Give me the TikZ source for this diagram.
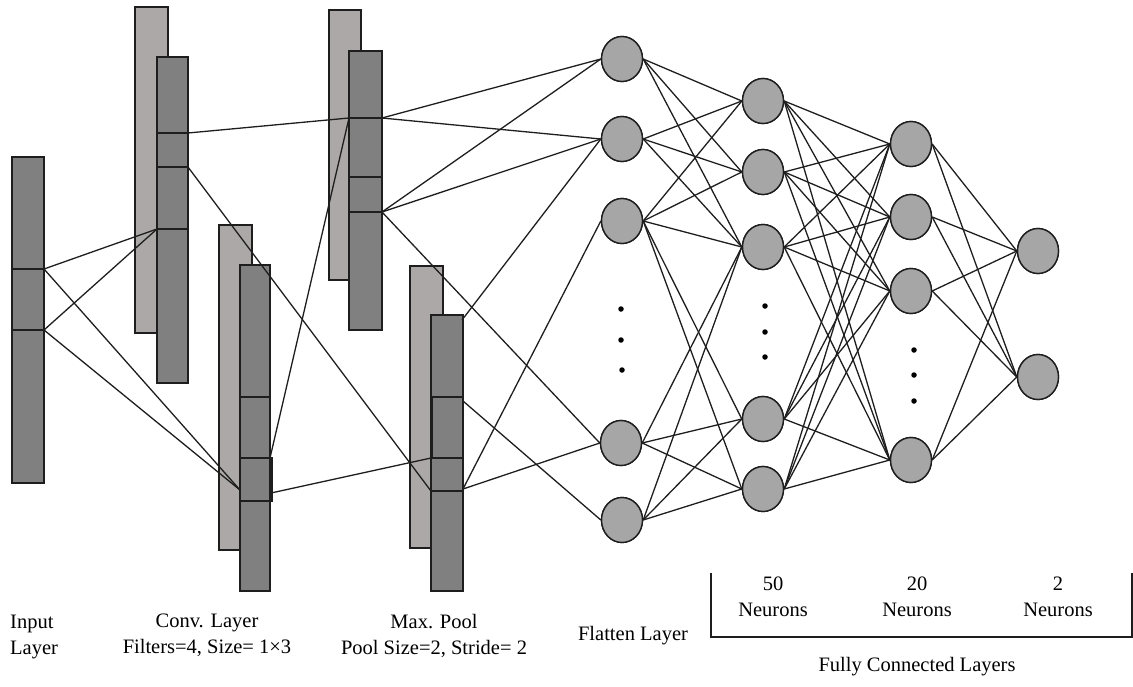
\documentclass[tikz,border=0pt]{standalone}
\usepackage{fontspec}
\setmainfont{Liberation Serif}
\usetikzlibrary{shapes.geometric}
\definecolor{lightbar}{HTML}{ABA8A7}
\definecolor{darkbar}{HTML}{808080}
\definecolor{neuron}{HTML}{A6A6A6}
\definecolor{ink}{HTML}{1E1E1E}
\tikzset{
  lbar/.style={draw=ink, line width=1.5pt, fill=lightbar},
  dbar/.style={draw=ink, line width=1.5pt, fill=darkbar},
  divl/.style={draw=ink, line width=1.5pt},
  neur/.style={ellipse, draw=ink, line width=1.4pt, fill=neuron, minimum width=41pt, minimum height=45pt, inner sep=0pt},
  conn/.style={draw=ink, line width=1.3pt},
  dotn/.style={circle, fill=black, inner sep=0pt, minimum size=5.5pt},
  lbl/.style={font=\fontsize{20.5}{26}\selectfont, inner sep=0pt, align=center},
}
\begin{document}
\begin{tikzpicture}[x=1pt,y=-1pt]
\useasboundingbox (0,0) rectangle (1133,686);
% ---- input layer
\draw[dbar] (12,157) rectangle (44,483);
\draw[divl] (12,269) -- (44,269);
\draw[divl] (12,330) -- (44,330);
% ---- conv layer
\draw[lbar] (135,7) rectangle (168,333);
\draw[dbar] (157,57) rectangle (188,383);
\draw[divl] (157,133) -- (188,133);
\draw[divl] (157,167) -- (188,167);
\draw[divl] (157,229) -- (188,229);
\draw[lbar] (219,225) rectangle (252,550);
\draw[dbar] (240,265) rectangle (270,591);
\draw[divl] (240,397) -- (270,397);
\draw[line width=2pt, draw=ink] (240,458) rectangle (271.5,501);
% ---- max pool
\draw[lbar] (329,10) rectangle (361,280);
\draw[dbar] (349,51) rectangle (382,330);
\draw[divl] (349,118) -- (382,118);
\draw[divl] (349,177) -- (382,177);
\draw[divl] (349,212) -- (382,212);
\draw[lbar] (410,266) rectangle (443,548);
\draw[dbar] (431,315) rectangle (463,591);
\draw[line width=1.8pt, draw=ink] (432.5,397) rectangle (463,458);
\draw[divl] (431,491) -- (463,491);
% ---- anchor coordinates on the bars
\coordinate (in1) at (44,269);
\coordinate (in2) at (44,330);
\coordinate (cv1) at (157,229);
\coordinate (cv2) at (240,490);
\coordinate (cv3) at (188,133);
\coordinate (cv4) at (188,167);
\coordinate (cv5) at (270,458);
\coordinate (cv6) at (271,493);
\coordinate (pl1) at (349,118);
\coordinate (pl2) at (431,491);
\coordinate (pl3) at (431,458);
\coordinate (pl4) at (382,118);
\coordinate (pl5) at (382,212);
\coordinate (pl6) at (462,320);
\coordinate (pl7) at (463,489);
\coordinate (pl8) at (463,401);
% ---- neurons (named, for connector anchors)
\node[neur] (F1) at (622,59) {};
\node[neur] (F2) at (622,139) {};
\node[neur] (F3) at (622,221) {};
\node[neur] (F4) at (621,443) {};
\node[neur] (F5) at (622,520) {};
\node[neur] (A1) at (763,101) {};
\node[neur] (A2) at (763,172) {};
\node[neur] (A3) at (763,247) {};
\node[neur] (A4) at (763,419) {};
\node[neur] (A5) at (763,489) {};
\node[neur] (B1) at (911,144) {};
\node[neur] (B2) at (911,217) {};
\node[neur] (B3) at (911,291) {};
\node[neur] (B4) at (911,460) {};
\node[neur] (C1) at (1038,251) {};
\node[neur] (C2) at (1038,377) {};
% ---- connectors
\draw[conn] (in1) -- (cv1);
\draw[conn] (in2) -- (cv1);
\draw[conn] (in1) -- (cv2);
\draw[conn] (in2) -- (cv2);
\draw[conn] (cv3) -- (pl1);
\draw[conn] (cv4) -- (pl2);
\draw[conn] (cv5) -- (pl1);
\draw[conn] (cv6) -- (pl3);
\draw[conn] (pl4) -- (F1.west);
\draw[conn] (pl4) -- (F2.west);
\draw[conn] (pl5) -- (F1.west);
\draw[conn] (pl5) -- (F2.west);
\draw[conn] (pl5) -- (F4.west);
\draw[conn] (pl6) -- (F2.west);
\draw[conn] (pl7) -- (F3.west);
\draw[conn] (pl7) -- (F4.west);
\draw[conn] (pl8) -- (F5.west);
\foreach \f in {F1,F2,F3}{\foreach \a in {A1,A2,A3}{\draw[conn] (\f.east) -- (\a.west);}}
\draw[conn] (F3.east) -- (A4.west);
\draw[conn] (F3.east) -- (A5.west);
\foreach \f in {F4,F5}{\foreach \a in {A3,A4,A5}{\draw[conn] (\f.east) -- (\a.west);}}
\foreach \a in {A1,A2,A3,A4,A5}{\foreach \b in {B1,B2,B3,B4}{\draw[conn] (\a.east) -- (\b.west);}}
\foreach \b in {B1,B2,B3,B4}{\foreach \c in {C1,C2}{\draw[conn] (\b.east) -- (\c.west);}}
% redraw neurons on top of connector ends
\foreach \n in {F1,F2,F3,F4,F5,A1,A2,A3,A4,A5,B1,B2,B3,B4,C1,C2}{\node[neur] at (\n) {};}
% ---- dots
\node[dotn] (fd1) at (621,309) {};
\node[dotn] (fd2) at (621,340) {};
\node[dotn] (fd3) at (622,370) {};
\node[dotn] (ad1) at (765,306) {};
\node[dotn] (ad2) at (765,332) {};
\node[dotn] (ad3) at (765,357) {};
\node[dotn] (bd1) at (914,350) {};
\node[dotn] (bd2) at (914,375) {};
\node[dotn] (bd3) at (914,401) {};
% ---- labels
\node[lbl, align=left, anchor=west] (linput) at (10,636.5) {Input\\Layer};
\node[lbl] (lconv) at (207,635.5) {Conv. Layer\\Filters=4, Size= 1×3};
\node[lbl] (lpool) at (434,635.5) {Max. Pool\\Pool Size=2, Stride= 2};
\node[lbl, anchor=base] (lflat) at (633,640) {Flatten Layer};
\node[lbl] (l50) at (773,597) {50\\Neurons};
\node[lbl] (l20) at (917,597) {20\\Neurons};
\node[lbl] (l2) at (1058,597) {2\\Neurons};
\node[lbl, anchor=base] (lfc) at (917,671) {Fully Connected Layers};
\coordinate (br1) at (711,573);
\coordinate (br2) at (711,637);
\coordinate (br3) at (1132,637);
\coordinate (br4) at (1132,573);
\draw[draw=ink, line width=1.5pt] (br1) -- (br2) -- (br3) -- (br4);
\end{tikzpicture}
\end{document}
